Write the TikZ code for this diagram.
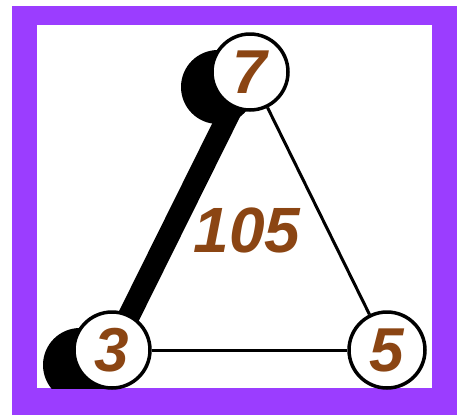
\documentclass[tikz,border=0pt]{standalone}
\usepackage{fontspec}
\setmainfont{Liberation Sans}
\usetikzlibrary{positioning,backgrounds}
\definecolor{FramePurple}{HTML}{9B3DFF}
\definecolor{NumBrown}{HTML}{8B4513}

\begin{document}
\begin{tikzpicture}[x=1pt, y=-1pt,
  vertex/.style={circle, draw=black, line width=3.5pt, fill=white, minimum size=76pt, inner sep=0pt, text=NumBrown, font=\fontsize{62}{62}\selectfont\bfseries\itshape},
  shadeblob/.style={circle, fill=black, minimum size=74pt, inner sep=0pt},
  product/.style={text=NumBrown, font=\fontsize{64}{64}\selectfont\bfseries\itshape},
  edge/.style={line width=3pt, black},
  heavy/.style={line width=22pt, black}]
\useasboundingbox (0,0) rectangle (461,416);
\node[vertex] (n7) at (250,72) {7};
\node[vertex] (n3) at (112,350) {3};
\node[vertex] (n5) at (387,350) {5};
\node[product] (prod) at (247,230) {105};
\begin{scope}[on background layer]
\fill[white] (0,0) rectangle (461,416);
\fill[FramePurple] (12,6) rectangle (457,415);
\fill[white] (37,25) rectangle (432,388);
\begin{scope}
\clip (37,25) rectangle (432,388);
\node[shadeblob] (s7) at (218,87) {};
\node[shadeblob] (s3) at (80,365) {};
\draw[heavy] (n7.center) -- (n3.center);
\end{scope}
\draw[edge] (n7) -- (n5);
\draw[edge] (n3) -- (n5);
\end{scope}
\end{tikzpicture}
\end{document}
